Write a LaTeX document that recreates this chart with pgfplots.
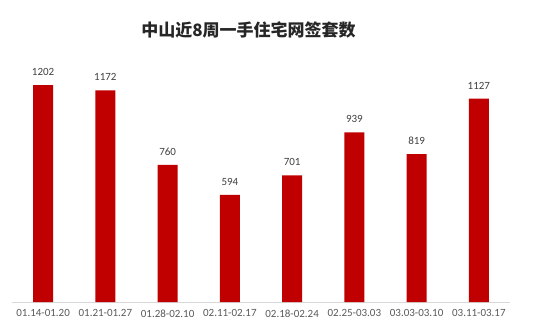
\documentclass[border=0pt]{standalone}
\usepackage{pgfplots}
\pgfplotsset{compat=1.18}
\usepackage{fontspec}
\setmainfont{Carlito}
\newfontfamily\cjk{Noto Sans CJK SC}
\definecolor{barred}{HTML}{C00000}
\definecolor{ticktxt}{HTML}{595959}
\definecolor{lbltxt}{HTML}{404040}
\definecolor{axline}{HTML}{D9D9D9}
\begin{document}
\begin{tikzpicture}[x=1pt,y=1pt]
\path[use as bounding box] (0,0) rectangle (554,333);
\begin{axis}[
  at={(12pt,31pt)}, anchor=south west,
  scale only axis, width=498pt, height=252pt,
  ymin=0, ymax=1396,
  xmin=-0.5, xmax=7.5,
  xtick=data,
  xticklabels={01.14-01.20,01.21-01.27,01.28-02.10,02.11-02.17,02.18-02.24,02.25-03.03,03.03-03.10,03.11-03.17},
  xticklabel style={font=\fontsize{11}{12}\selectfont, text=ticktxt, yshift=-4pt},
  major tick length=0pt,
  ytick=\empty,
  axis y line=none,
  axis x line*=bottom,
  x axis line style={draw=axline, line width=0.8pt, -},
  xtick style={draw=none},
  ybar, bar width=20pt,
  nodes near coords,
  /pgf/number format/.cd, 1000 sep={}, assume math mode=true, /pgfplots/.cd,
  nodes near coords style={font=\fontsize{11}{12}\selectfont, text=lbltxt, yshift=6pt},
  clip=false,
]
\addplot[fill=barred, draw=none] coordinates {(0,1202) (1,1172) (2,760) (3,594) (4,701) (5,939) (6,819) (7,1127)};
\end{axis}
\node[font=\cjk\bfseries\fontsize{17}{20}\selectfont, text=black!85] at (248.5,303) {中山近8周一手住宅网签套数};
\end{tikzpicture}
\end{document}
